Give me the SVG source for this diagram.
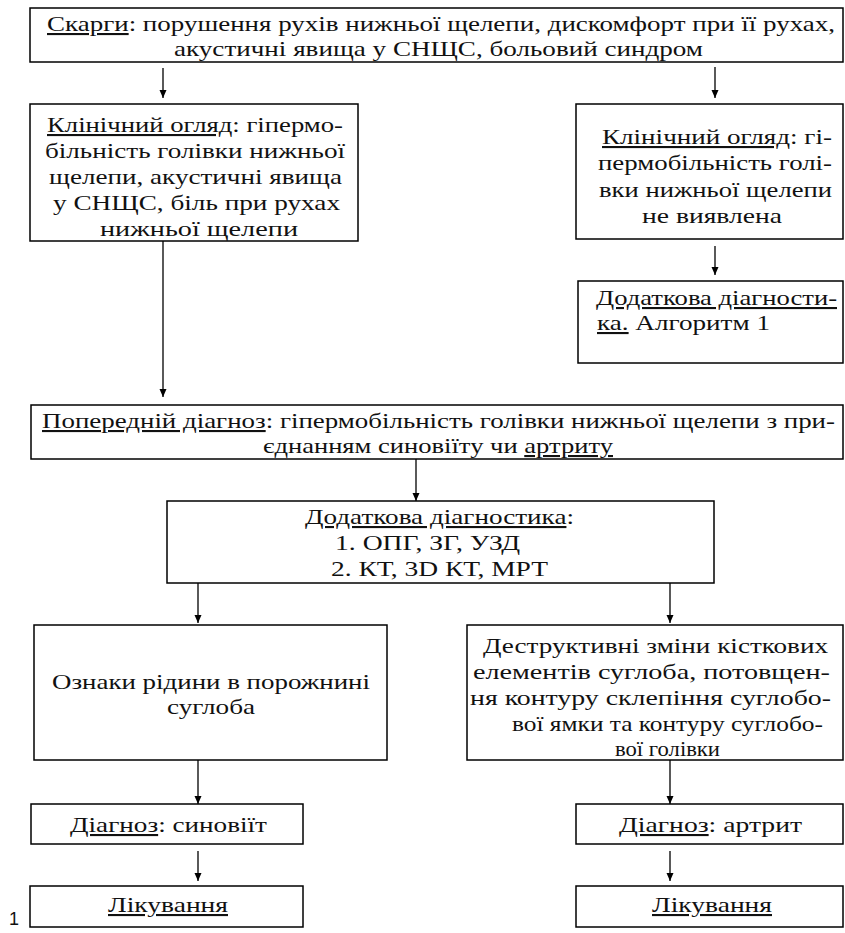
<svg xmlns="http://www.w3.org/2000/svg" width="845" height="933" viewBox="0 0 845 933" font-family="Liberation Serif, DejaVu Serif, serif">
<style>
  .box { fill: #fff; stroke: #000; stroke-width: 1.5; }
  .t { font-size: 21px; fill: #111; }
  .u { text-decoration: underline; }
  .c { stroke: #000; stroke-width: 1.3; fill: none; marker-end: url(#ah); }
  .num { font-size: 18px; fill: #111; }
</style>
<defs>
  <marker id="ah" markerUnits="userSpaceOnUse" markerWidth="8" markerHeight="8" refX="8" refY="3.5" orient="auto">
    <path d="M0,0 L8,3.5 L0,7 z" fill="#000"/>
  </marker>
</defs>
<rect width="845" height="933" fill="#fff"/>

<g id="connectors">
  <line class="c" x1="163" y1="68" x2="163" y2="98"/>
  <line class="c" x1="715" y1="67" x2="715" y2="98"/>
  <line class="c" x1="715" y1="246" x2="715" y2="275"/>
  <line class="c" x1="163" y1="241" x2="163" y2="397"/>
  <line class="c" x1="416" y1="459" x2="416" y2="501"/>
  <line class="c" x1="198" y1="583" x2="198" y2="623"/>
  <line class="c" x1="670" y1="583" x2="670" y2="623"/>
  <line class="c" x1="198" y1="760" x2="198" y2="804"/>
  <line class="c" x1="670" y1="760" x2="670" y2="804"/>
  <line class="c" x1="198" y1="851" x2="198" y2="881"/>
  <line class="c" x1="670" y1="851" x2="670" y2="881"/>
</g>

<g id="complaints">
  <rect class="box" x="30" y="8" width="813" height="54"/>
  <text class="t" x="47" y="31" textLength="788" lengthAdjust="spacingAndGlyphs"><tspan class="u">Скарги</tspan>: порушення рухів нижньої щелепи, дискомфорт при її рухах,</text>
  <text class="t" x="174" y="56" textLength="529" lengthAdjust="spacingAndGlyphs">акустичні явища у СНЩС, больовий синдром</text>
</g>

<g id="exam-left">
  <rect class="box" x="30" y="104" width="328" height="137"/>
  <text class="t" x="47" y="132" textLength="296" lengthAdjust="spacingAndGlyphs"><tspan class="u">Клінічний огляд</tspan>: гіпермо-</text>
  <text class="t" x="45" y="158" textLength="300" lengthAdjust="spacingAndGlyphs">більність голівки нижньої</text>
  <text class="t" x="49" y="184" textLength="293" lengthAdjust="spacingAndGlyphs">щелепи, акустичні явища</text>
  <text class="t" x="53" y="210" textLength="287" lengthAdjust="spacingAndGlyphs">у СНЩС, біль при рухах</text>
  <text class="t" x="100" y="236" textLength="198" lengthAdjust="spacingAndGlyphs">нижньої щелепи</text>
</g>

<g id="exam-right">
  <rect class="box" x="576" y="104" width="267" height="135"/>
  <text class="t" x="602" y="144" textLength="230" lengthAdjust="spacingAndGlyphs"><tspan class="u">Клінічний огляд</tspan>: гі-</text>
  <text class="t" x="598" y="170" textLength="234" lengthAdjust="spacingAndGlyphs">пермобільність голі-</text>
  <text class="t" x="599" y="197" textLength="233" lengthAdjust="spacingAndGlyphs">вки нижньої щелепи</text>
  <text class="t" x="642" y="223" textLength="140" lengthAdjust="spacingAndGlyphs">не виявлена</text>
</g>

<g id="extra-diag-1">
  <rect class="box" x="578" y="281" width="265" height="82"/>
  <text class="t" x="596" y="305" textLength="241" lengthAdjust="spacingAndGlyphs"><tspan class="u">Додаткова діагности-</tspan></text>
  <text class="t" x="597" y="330" textLength="173" lengthAdjust="spacingAndGlyphs"><tspan class="u">ка.</tspan> Алгоритм 1</text>
</g>

<g id="preliminary">
  <rect class="box" x="31" y="405" width="812" height="54"/>
  <text class="t" x="42" y="428" textLength="793" lengthAdjust="spacingAndGlyphs"><tspan class="u">Попередній діагноз</tspan>: гіпермобільність голівки нижньої щелепи з при-</text>
  <text class="t" x="263" y="453" textLength="350" lengthAdjust="spacingAndGlyphs">єднанням синовіїту чи <tspan class="u">артриту</tspan></text>
</g>

<g id="extra-diag-2">
  <rect class="box" x="167" y="501" width="547" height="82"/>
  <text class="t" x="305" y="524" textLength="269" lengthAdjust="spacingAndGlyphs"><tspan class="u">Додаткова діагностика</tspan>:</text>
  <text class="t" x="335" y="550" textLength="185" lengthAdjust="spacingAndGlyphs">1. ОПГ, ЗГ, УЗД</text>
  <text class="t" x="331" y="576" textLength="217" lengthAdjust="spacingAndGlyphs">2. КТ, 3D КТ, МРТ</text>
</g>

<g id="fluid">
  <rect class="box" x="34" y="625" width="353" height="135"/>
  <text class="t" x="52" y="689" textLength="318" lengthAdjust="spacingAndGlyphs">Ознаки рідини в порожнині</text>
  <text class="t" x="167" y="714" textLength="88" lengthAdjust="spacingAndGlyphs">суглоба</text>
</g>

<g id="destructive">
  <rect class="box" x="467" y="625" width="376" height="135"/>
  <text class="t" x="483" y="653" textLength="345" lengthAdjust="spacingAndGlyphs">Деструктивні зміни кісткових</text>
  <text class="t" x="473" y="679" textLength="357" lengthAdjust="spacingAndGlyphs">елементів суглоба, потовщен-</text>
  <text class="t" x="470" y="705" textLength="361" lengthAdjust="spacingAndGlyphs">ня контуру склепіння суглобо-</text>
  <text class="t" x="512" y="731" textLength="311" lengthAdjust="spacingAndGlyphs">вої ямки та контуру суглобо-</text>
  <text class="t" x="615" y="756" textLength="105" lengthAdjust="spacingAndGlyphs">вої голівки</text>
</g>

<g id="diag-synovitis">
  <rect class="box" x="31" y="804" width="272" height="40"/>
  <text class="t" x="70" y="832" textLength="197" lengthAdjust="spacingAndGlyphs"><tspan class="u">Діагноз</tspan>: синовіїт</text>
</g>

<g id="diag-arthritis">
  <rect class="box" x="576" y="804" width="267" height="40"/>
  <text class="t" x="619" y="832" textLength="183" lengthAdjust="spacingAndGlyphs"><tspan class="u">Діагноз</tspan>: артрит</text>
</g>

<g id="treat-left">
  <rect class="box" x="30" y="886" width="273" height="41"/>
  <text class="t" x="108" y="912" textLength="120" lengthAdjust="spacingAndGlyphs"><tspan class="u">Лікування</tspan></text>
</g>

<g id="treat-right">
  <rect class="box" x="576" y="886" width="267" height="41"/>
  <text class="t" x="652" y="912" textLength="120" lengthAdjust="spacingAndGlyphs"><tspan class="u">Лікування</tspan></text>
</g>

<text class="num" x="9" y="925" font-family="Liberation Sans, sans-serif">1</text>
</svg>
